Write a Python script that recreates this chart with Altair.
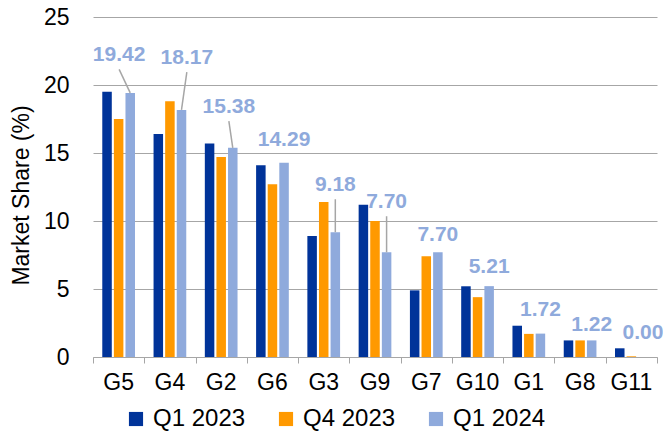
import altair as alt
import pandas as pd

# Market share by group, three quarters
groups = ["G5", "G4", "G2", "G6", "G3", "G9", "G7", "G10", "G1", "G8", "G11"]
series = ["Q1 2023", "Q4 2023", "Q1 2024"]
q1_2023 = [19.5, 16.4, 15.7, 14.1, 8.9, 11.2, 4.9, 5.2, 2.3, 1.22, 0.64]
q4_2023 = [17.5, 18.8, 14.7, 12.7, 11.4, 10.0, 7.4, 4.4, 1.7, 1.22, 0.05]
q1_2024 = [19.42, 18.17, 15.38, 14.29, 9.18, 7.70, 7.70, 5.21, 1.72, 1.22, 0.00]

# Label placement for the Q1 2024 values (height in % units, sideways shift in group widths)
label_height = [22.2, 22.0, 18.4, 15.95, 12.65, 11.4, 8.95, 6.65, 3.45, 2.35, 1.75]
label_shift = [0.01, 0.33, 0.15, 0.226, 0.226, 0.226, 0.226, 0.226, 0.226, 0.226, 0.226]
has_leader = [True, True, True, False, True, True, False, False, False, False, False]
bar_shift = 0.226  # centre of the Q1 2024 bar inside its group

colors = ["#003399", "#FF9900", "#8FAADC"]
FONT = "Liberation Sans"

rows = []
for s, vals in zip(series, [q1_2023, q4_2023, q1_2024]):
    for g, v in zip(groups, vals):
        rows.append({"group": g, "series": s, "value": v})
bars_df = pd.DataFrame(rows)

lab_rows = []
for i, g in enumerate(groups):
    lab_rows.append({
        "group": g,
        "value": q1_2024[i],
        "label": f"{q1_2024[i]:.2f}",
        "lx": i + 0.5 + label_shift[i],
        "ly": label_height[i],
        "bx": i + 0.5 + bar_shift,
        "ry": label_height[i] - 1.05,
        "leader": has_leader[i],
    })
lab_df = pd.DataFrame(lab_rows)
lead_df = lab_df[lab_df["leader"]]

y_scale = alt.Scale(domain=[0, 25], nice=False)
xq_scale = alt.Scale(domain=[0, len(groups)], nice=False, zero=False)
y_title = "Market Share (%)"
y_axis = alt.Axis(values=[0, 5, 10, 15, 20, 25], ticks=False, domain=False,
                  grid=True, gridColor="#A6A6A6", gridWidth=1,
                  labelFont=FONT, labelFontSize=23, labelColor="#000000",
                  labelPadding=24,
                  titleFont=FONT, titleFontSize=23, titleFontWeight="normal",
                  titleColor="#000000", titleX=-60, titleY=178)

bars = alt.Chart(bars_df).mark_bar().encode(
    x=alt.X("group:N", sort=groups, title=None,
            scale=alt.Scale(paddingInner=0, paddingOuter=0),
            axis=alt.Axis(labelAngle=0, ticks=False, domain=False,
                          labelFont=FONT, labelFontSize=23, labelColor="#000000",
                          labelPadding=14)),
    xOffset=alt.XOffset("series:N", sort=series,
                        scale=alt.Scale(paddingInner=0.18, paddingOuter=0.8)),
    y=alt.Y("value:Q", scale=y_scale, title=y_title, axis=y_axis),
    color=alt.Color("series:N", sort=series,
                    scale=alt.Scale(domain=series, range=colors),
                    legend=alt.Legend(title=None, orient="none", direction="horizontal",
                                      legendX=31, legendY=390,
                                      symbolType="square", symbolSize=200,
                                      symbolStrokeWidth=0, symbolOpacity=1,
                                      labelFont=FONT, labelFontSize=24,
                                      labelColor="#000000", labelOffset=5,
                                      columnPadding=28)),
)

labels = alt.Chart(lab_df).mark_text(
    font=FONT, fontSize=21, fontWeight="bold", color="#8FAADC",
    align="center", baseline="middle",
).encode(
    x=alt.X("lx:Q", scale=xq_scale, title=None,
            axis=alt.Axis(orient="bottom", values=list(range(len(groups) + 1)),
                          labels=False, grid=False, tickSize=6, tickColor="#A6A6A6",
                          domainColor="#A6A6A6", title=None)),
    y=alt.Y("ly:Q", scale=y_scale, title=y_title, axis=y_axis),
    text="label:N",
)

leaders = alt.Chart(lead_df).mark_rule(color="#A6A6A6", strokeWidth=1.5).encode(
    x=alt.X("lx:Q", scale=xq_scale, axis=None),
    x2="bx:Q",
    y=alt.Y("ry:Q", scale=y_scale, title=y_title, axis=y_axis),
    y2="value:Q",
)

chart = alt.layer(bars, leaders, labels).resolve_scale(
    x="independent"
).properties(
    width=564, height=340,
    autosize=alt.AutoSizeParams(type="none"),
    padding={"left": 93, "top": 17, "right": 6, "bottom": 75},
).configure_view(stroke=None)

chart.save("out.html", embed_options={"renderer": "svg", "actions": False})
